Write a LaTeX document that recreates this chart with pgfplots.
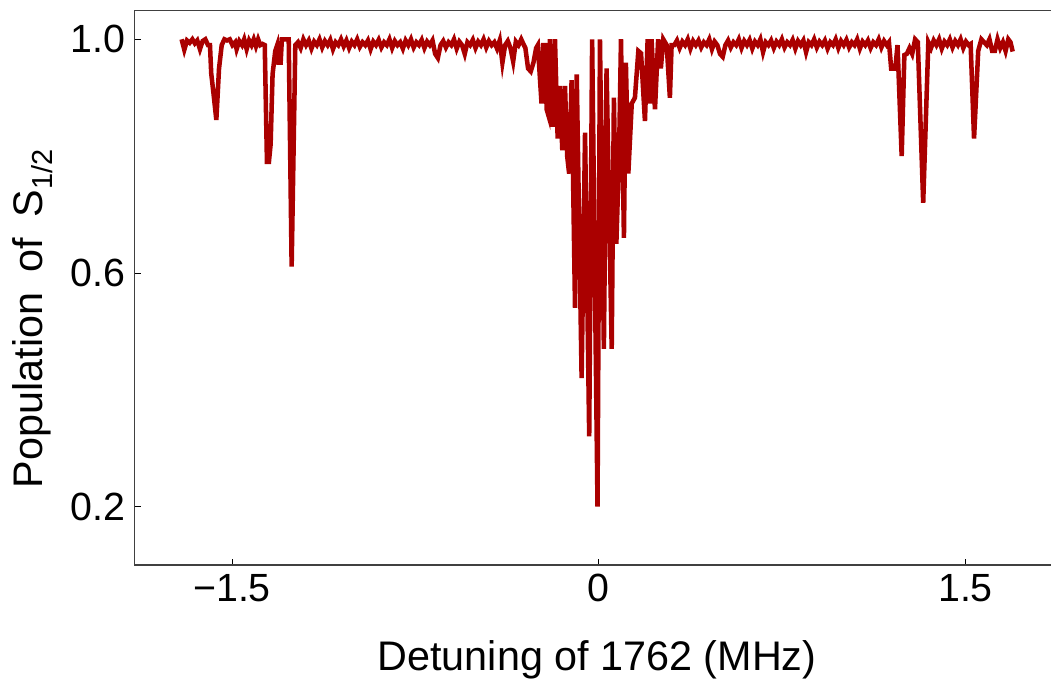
\documentclass[border=0pt]{standalone}
\usepackage{fontspec}
\setmainfont{Liberation Sans}
\usepackage{pgfplots}
\pgfplotsset{compat=1.18}
\definecolor{spec}{RGB}{170,0,0}
\begin{document}
\begin{tikzpicture}
\begin{axis}[name=ax,
  scale only axis, width=690pt, height=415.7pt,
  xmin=-1.898, xmax=1.865, ymin=0.1, ymax=1.049,
  xtick={-1.5,0,1.5}, xticklabels={−1.5,0,1.5},
  ytick={0.2,0.6,1.0}, yticklabels={0.2,0.6,1.0},
  xtick pos=bottom, ytick pos=left, tick align=inside,
  major tick length=4.5pt,
  tick style={black, line width=0.6pt},
  axis line style={line width=0.9pt, black!75},
  ticklabel style={font=\fontsize{29.5}{35}\selectfont},
  xticklabel style={yshift=-3.5pt},
  yticklabel style={xshift=-3.5pt},
  every axis x label/.style={at={(axis description cs:0.5025,-0.19)}, anchor=base},
  every axis y label/.style={at={(axis description cs:-0.100,0.445)}, rotate=90, anchor=base},
  label style={font=\fontsize{31}{38}\selectfont},
  xlabel={Detuning of 1762 (MHz)},
  ylabel={Population\hspace{0.5em}of\hspace{0.5em}S\textsubscript{1/2}},
]
\addplot[spec, line width=3.4pt, line join=miter] coordinates {
(-1.706,1.0)(-1.695,0.982)(-1.684,0.998)(-1.673,0.994)(-1.662,1.0)(-1.652,0.993)(-1.642,0.998)(-1.631,0.983)
(-1.620,0.997)(-1.609,1.0)(-1.598,0.99)(-1.590,0.99)(-1.585,0.942)(-1.575,0.905)(-1.564,0.862)(-1.553,0.95)
(-1.542,0.99)(-1.531,1.0)(-1.520,0.998)(-1.509,1.0)(-1.498,0.99)(-1.487,0.995)(-1.481,0.983)(-1.470,0.997)
(-1.459,0.99)(-1.450,1.0)(-1.440,0.983)(-1.430,0.998)(-1.420,0.99)(-1.411,1.0)(-1.402,0.988)(-1.393,1.0)
(-1.384,0.99)(-1.375,0.992)(-1.366,0.99)(-1.357,0.79)(-1.349,0.79)(-1.342,0.82)(-1.334,0.94)(-1.323,0.98)
(-1.315,0.99)(-1.310,0.96)(-1.301,0.96)(-1.296,1.0)(-1.285,1.0)(-1.268,1.0)(-1.256,0.611)(-1.241,0.99)
(-1.230,0.995)(-1.219,0.985)(-1.208,1.0)(-1.197,0.99)(-1.186,0.998)(-1.175,0.984)(-1.164,0.996)(-1.153,0.99)
(-1.142,1.0)(-1.131,0.986)(-1.120,0.997)(-1.109,0.99)(-1.098,0.999)(-1.087,0.983)(-1.076,0.995)(-1.065,0.99)
(-1.054,1.0)(-1.043,0.988)(-1.032,0.998)(-1.021,0.985)(-1.010,0.996)(-0.999,0.99)(-0.988,1.0)(-0.977,0.987)
(-0.966,0.995)(-0.955,0.99)(-0.944,0.998)(-0.933,0.983)(-0.922,0.996)(-0.911,0.99)(-0.900,0.999)(-0.889,0.986)
(-0.878,0.995)(-0.867,0.99)(-0.856,1.0)(-0.845,0.985)(-0.834,0.997)(-0.823,0.99)(-0.812,0.995)(-0.801,0.984)
(-0.790,0.998)(-0.779,0.99)(-0.768,1.0)(-0.757,0.986)(-0.746,0.995)(-0.735,0.99)(-0.724,0.999)(-0.713,0.985)
(-0.702,0.996)(-0.691,0.99)(-0.680,0.998)(-0.669,0.975)(-0.658,0.968)(-0.647,0.99)(-0.636,0.997)(-0.625,0.986)
(-0.614,0.995)(-0.603,0.99)(-0.592,1.0)(-0.581,0.984)(-0.570,0.996)(-0.559,0.99)(-0.548,0.975)(-0.537,0.995)
(-0.526,0.99)(-0.515,0.999)(-0.504,0.985)(-0.493,0.996)(-0.482,0.99)(-0.471,1.0)(-0.460,0.986)(-0.449,0.997)
(-0.438,0.99)(-0.427,0.995)(-0.416,0.984)(-0.405,0.998)(-0.394,0.96)(-0.383,0.99)(-0.372,0.997)(-0.361,0.985)
(-0.350,0.962)(-0.339,0.996)(-0.328,0.99)(-0.317,1.0)(-0.306,0.99)
(-0.300,0.985)(-0.289,0.95)(-0.278,0.945)(-0.267,0.96)(-0.256,0.985)(-0.249,0.99)(-0.234,0.89)(-0.227,0.99)(-0.220,0.99)
(-0.213,0.88)(-0.206,0.87)(-0.200,1.0)(-0.189,0.85)(-0.179,1.0)(-0.168,0.83)(-0.159,0.92)(-0.149,0.81)(-0.138,0.92)
(-0.129,0.80)(-0.121,0.77)(-0.111,0.93)(-0.097,0.54)(-0.090,0.94)(-0.070,0.42)(-0.056,0.84)(-0.039,0.32)(-0.027,1.0)
(-0.005,0.2)(0.005,1.0)(0.021,0.47)(0.032,0.95)(0.053,0.47)(0.062,0.90)(0.072,0.65)(0.083,0.80)(0.091,1.0)
(0.103,0.66)(0.111,0.96)(0.121,0.77)(0.135,0.89)(0.148,0.90)(0.162,0.98)(0.173,0.976)(0.189,0.86)
(0.200,1.0)(0.209,0.89)(0.216,1.0)(0.230,0.88)(0.243,1.0)(0.254,0.95)(0.264,1.0)(0.278,0.99)
(0.291,0.90)(0.298,0.99)
(0.309,0.99)(0.320,0.998)(0.331,0.985)(0.342,0.996)(0.353,0.99)(0.364,1.0)(0.375,0.984)(0.386,0.997)
(0.397,0.99)(0.408,0.998)(0.419,0.986)(0.430,0.995)(0.441,0.99)(0.452,1.0)(0.463,0.983)(0.474,0.996)
(0.485,0.99)(0.496,0.975)(0.507,0.97)(0.518,0.99)(0.529,0.998)(0.540,0.986)(0.551,0.995)(0.562,0.99)
(0.573,1.0)(0.584,0.985)(0.595,0.997)(0.606,0.99)(0.617,0.999)(0.628,0.984)(0.639,0.996)(0.650,0.99)
(0.661,1.0)(0.672,0.978)(0.683,0.995)(0.694,0.99)(0.705,0.998)(0.716,0.985)(0.727,0.996)(0.738,0.99)
(0.749,1.0)(0.760,0.986)(0.771,0.995)(0.782,0.99)(0.793,0.999)(0.804,0.984)(0.815,0.997)(0.826,0.99)
(0.837,0.998)(0.848,0.978)(0.859,0.995)(0.870,0.99)(0.881,1.0)(0.892,0.986)(0.903,0.996)(0.914,0.99)
(0.925,0.998)(0.936,0.984)(0.947,0.995)(0.958,0.99)(0.969,1.0)(0.980,0.985)(0.991,0.997)(1.002,0.99)
(1.013,0.999)(1.024,0.986)(1.035,0.995)(1.046,0.99)(1.057,1.0)(1.068,0.984)(1.079,0.996)(1.090,0.99)
(1.101,0.998)(1.112,0.985)(1.123,0.995)(1.134,0.99)(1.145,1.0)(1.156,0.986)(1.167,0.997)(1.178,0.99)
(1.187,0.995)(1.196,0.95)(1.213,0.95)(1.222,0.99)(1.239,0.80)(1.250,0.973)(1.260,0.975)(1.271,0.985)
(1.282,0.975)(1.294,1.0)(1.305,0.995)(1.327,0.72)(1.348,0.995)(1.359,0.985)(1.370,0.998)(1.381,0.99)
(1.392,1.0)(1.403,0.984)(1.414,0.996)(1.425,0.99)(1.436,1.0)(1.447,0.986)(1.458,0.997)(1.469,0.99)
(1.480,1.0)(1.491,0.985)(1.502,0.996)(1.513,0.99)(1.521,0.992)(1.535,0.83)(1.552,0.98)(1.565,1.0)
(1.576,0.995)(1.587,0.99)(1.598,1.0)(1.609,0.98)(1.620,0.98)(1.631,1.0)(1.642,0.985)(1.653,0.995)
(1.664,0.98)(1.675,1.0)(1.684,0.995)(1.693,0.979)
};
\end{axis}
\pgfresetboundingbox
\path[use as bounding box] ([xshift=-101pt,yshift=-86.25pt]ax.south west) rectangle ([xshift=-2.8pt,yshift=8pt]ax.north east);
\end{tikzpicture}
\end{document}
